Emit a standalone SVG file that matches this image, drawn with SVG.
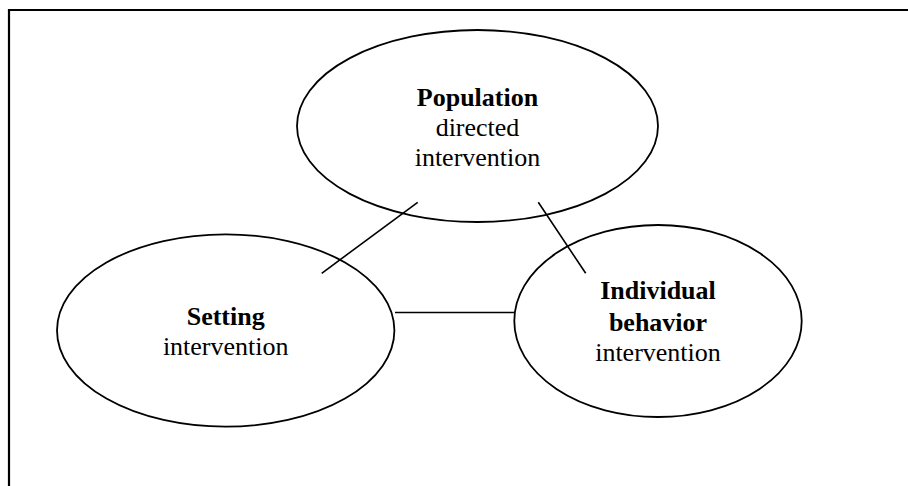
<svg xmlns="http://www.w3.org/2000/svg" width="908" height="486" viewBox="0 0 908 486">
<style>
.e{fill:#fff;stroke:#000;stroke-width:1.8}
.c{stroke:#000;stroke-width:1.6;fill:none}
text{font-size:26px;text-anchor:middle;fill:#000}
.b{font-weight:bold}
</style>
<rect x="0" y="0" width="908" height="486" fill="#fff"/>
<path d="M9 486 V10 H908" fill="none" stroke="#000" stroke-width="2.2"/>
<g font-family="'Liberation Serif', 'Times New Roman', Times, 'DejaVu Serif', serif">
<g id="population">
<ellipse class="e" cx="477.5" cy="126" rx="180.5" ry="96"/>
<text class="b" x="477.5" y="106">Population</text>
<text x="477.5" y="136">directed</text>
<text x="477.5" y="166">intervention</text>
</g>
<g id="setting">
<ellipse class="e" cx="225.7" cy="330.5" rx="168.7" ry="96.2"/>
<text class="b" x="225.7" y="325">Setting</text>
<text x="225.7" y="355">intervention</text>
</g>
<g id="individual">
<ellipse class="e" cx="658" cy="321" rx="143.7" ry="96"/>
<text class="b" x="658" y="299">Individual</text>
<text class="b" x="658" y="330.5">behavior</text>
<text x="658" y="360.5">intervention</text>
</g>
</g>
<g id="connectors">
<line class="c" x1="321.7" y1="273.3" x2="417.7" y2="202.3"/>
<line class="c" x1="538.3" y1="202.3" x2="585.7" y2="273.3"/>
<line class="c" x1="395" y1="312.5" x2="514.3" y2="312.5"/>
</g>
</svg>
